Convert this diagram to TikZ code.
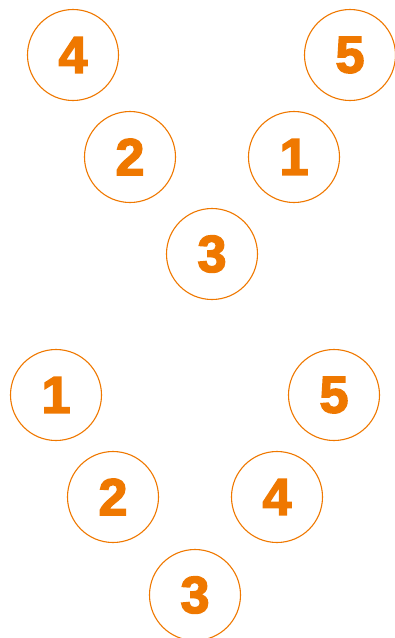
\documentclass[tikz,border=0pt]{standalone}
\usepackage{fontspec}
\setmainfont{Liberation Sans}[BoldFeatures={FakeBold=3}]
\usepackage{xcolor}
\usepackage{tikz}
\definecolor{orange2}{HTML}{EF7800}

\begin{document}
\begin{tikzpicture}[
          x=1pt,y=-1pt,
          every node/.style={font=\fontsize{52}{52}\selectfont\bfseries},
          ball/.style={circle,draw=orange2,line width=1.1pt,text=orange2,
                       minimum size=91pt,inner sep=0pt},
      ]
        \clip (0,0) rectangle (395,638);

        % upper order
        \node[ball] (t4) at (73,55) {4};
        \node[ball] (t5) at (350,55) {5};
        \node[ball] (t2) at (130,157) {2};
        \node[ball] (t1) at (294,157) {1};
        \node[ball] (t3) at (212,254) {3};

        % lower order
        \node[ball] (b1) at (56,395) {1};
        \node[ball] (b5) at (334,395) {5};
        \node[ball] (b2) at (113,497) {2};
        \node[ball] (b4) at (277,497) {4};
        \node[ball] (b3) at (195,595) {3};
      \end{tikzpicture}
\end{document}
